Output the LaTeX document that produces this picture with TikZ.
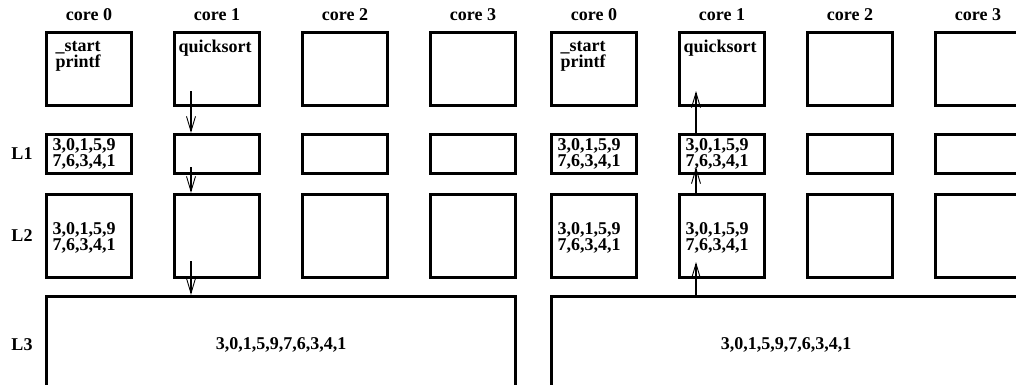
\documentclass[tikz,border=0pt]{standalone}
\usepackage{fontspec}
\setmainfont{Liberation Serif}
\usetikzlibrary{positioning,arrows.meta}
\tikzset{every node/.style={font=\bfseries\fontsize{18}{16}\selectfont, inner sep=0pt},
 cache/.style={draw, line width=2.7pt, minimum width=84.5pt},
 data/.style={align=left, anchor=west},
 flow/.style={line width=2pt, -{Straight Barb[length=15pt,width=9pt,line width=0.9pt]}}}

\begin{document}
\begin{tikzpicture}[x=1pt,y=-1pt]
  \path[use as bounding box] (0,0) rectangle (1016,385);
  \clip (0,0) rectangle (1016,385);
  % two snapshots: fetch down (a), write back up (b)
  \foreach \p/\dx in {a/0,b/505}{
   \begin{scope}[xshift=\dx pt]
    \foreach \c in {0,...,3}{
      \node (\p-t\c) at (89+128*\c,15) {core \c};
      \node[cache,minimum height=73.5pt] (\p-c\c) at (89+128*\c,69) {};
      \node[cache,minimum height=39.5pt] (\p-l1c\c) at (89+128*\c,154) {};
      \node[cache,minimum height=83.5pt] (\p-l2c\c) at (89+128*\c,236) {};
    }
    \node[cache,minimum width=469.5pt,minimum height=97.5pt] (\p-l3) at (281,345) {3,0,1,5,9,7,6,3,4,1};
    \node[align=left,anchor=north west] (\p-prog) at ([shift={(10pt,-10pt)}]\p-c0.north west) {\_start\\printf};
    \node[anchor=north west] (\p-sort) at ([shift={(5pt,-9pt)}]\p-c1.north west) {quicksort};
    \node[data,right=7pt of \p-l1c0.west] (\p-d1) {3,0,1,5,9\\7,6,3,4,1};
    \node[data,right=7pt of \p-l2c0.west,yshift=-2pt] (\p-d2) {3,0,1,5,9\\7,6,3,4,1};
   \end{scope}
  }
  \node[data,right=7pt of b-l1c1.west] (b-d3) {3,0,1,5,9\\7,6,3,4,1};
  \node[data,right=7pt of b-l2c1.west,yshift=-2pt] (b-d4) {3,0,1,5,9\\7,6,3,4,1};
  % level names
  \node (n1) at (22,154) {L1};
  \node (n2) at (22,236) {L2};
  \node (n3) at (22,345) {L3};
  % arrows
  \coordinate (a-q1) at ([xshift=-26pt,yshift=16pt]a-c1.south);
  \coordinate (a-q2) at ([xshift=-26pt,yshift=8pt]a-l1c1.south);
  \coordinate (a-q3) at ([xshift=-26pt,yshift=18pt]a-l2c1.south);
  \draw[flow] (a-q1) -- (a-q1 |- a-l1c1.north);
  \draw[flow] (a-q2) -- (a-q2 |- a-l2c1.north);
  \draw[flow] (a-q3) -- (a-q3 |- a-l3.north);
  \coordinate (b-q1) at ([xshift=-26pt,yshift=16pt]b-c1.south);
  \coordinate (b-q2) at ([xshift=-26pt,yshift=8pt]b-l1c1.south);
  \coordinate (b-q3) at ([xshift=-26pt,yshift=17pt]b-l2c1.south);
  \draw[flow] (b-q3 |- b-l3.north) -- (b-q3);
  \draw[flow] (b-q2 |- b-l2c1.north) -- (b-q2);
  \draw[flow] (b-q1 |- b-l1c1.north) -- (b-q1);
\end{tikzpicture}
\end{document}
